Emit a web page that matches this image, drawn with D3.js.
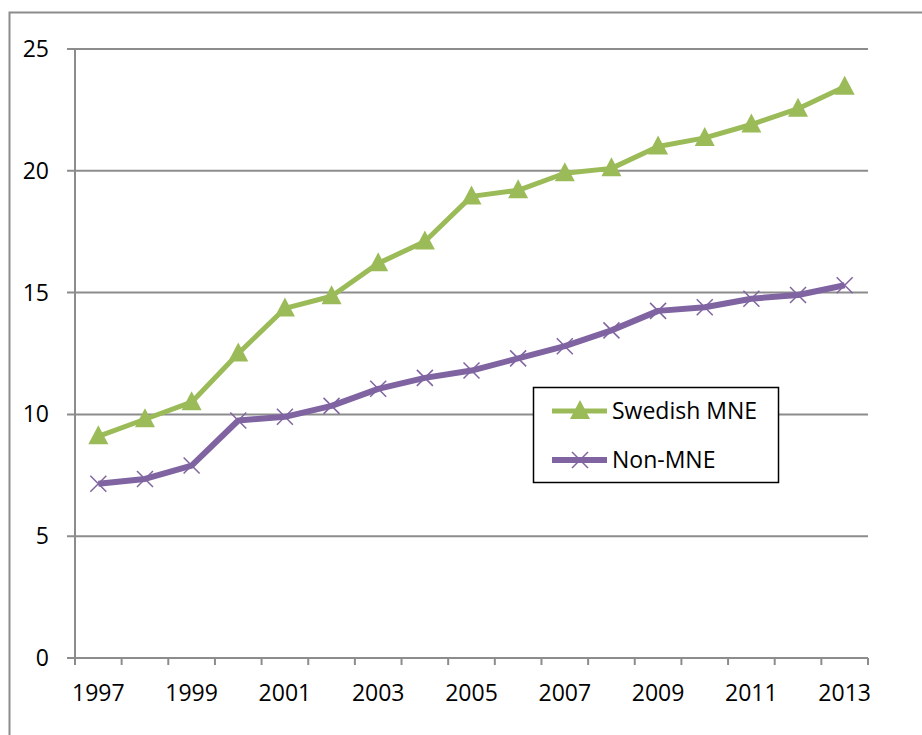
<!DOCTYPE html>
<html>
<head>
<meta charset="utf-8">
<script src="https://cdn.jsdelivr.net/npm/d3@7"></script>
<style>
body { margin: 0; background: #fff; }
text { font-family: "Open Sans", "Liberation Sans", sans-serif; }
</style>
</head>
<body>
<svg id="chart" width="922" height="735"></svg>
<script>
var years = [1997, 1998, 1999, 2000, 2001, 2002, 2003, 2004, 2005, 2006, 2007, 2008, 2009, 2010, 2011, 2012, 2013];
var swedishMNE = [9.1, 9.8, 10.5, 12.5, 14.35, 14.85, 16.2, 17.1, 18.95, 19.2, 19.9, 20.1, 21.0, 21.35, 21.9, 22.55, 23.45];
var nonMNE = [7.15, 7.35, 7.9, 9.75, 9.9, 10.35, 11.05, 11.5, 11.8, 12.3, 12.8, 13.45, 14.25, 14.4, 14.75, 14.9, 15.3];
var yTicks = [0, 5, 10, 15, 20, 25];
var seriesNames = ["Swedish MNE", "Non-MNE"];

var svg = d3.select("#chart");
var plotLeft = 75, plotRight = 868, plotTop = 49, plotBottom = 658;
var fontSize = 23;

// outer frame
svg.append("path")
	.attr("d", "M9.5,735 V12.5 H922")
	.attr("fill", "none")
	.attr("stroke", "#8c8c8c")
	.attr("stroke-width", 2);

var x = d3.scaleBand().domain(years).range([plotLeft, plotRight]);
var y = d3.scaleLinear().domain([0, 25]).range([plotBottom, plotTop]);

// gridlines
svg.selectAll(".grid")
	.data(yTicks)
	.enter()
	.append("line")
	.attr("x1", plotLeft - 8)
	.attr("x2", plotRight)
	.attr("y1", function(d) { return y(d); })
	.attr("y2", function(d) { return y(d); })
	.attr("stroke", "#8c8c8c")
	.attr("stroke-width", 2);

// y axis line
svg.append("line")
	.attr("x1", plotLeft).attr("x2", plotLeft)
	.attr("y1", plotTop).attr("y2", plotBottom)
	.attr("stroke", "#8c8c8c")
	.attr("stroke-width", 2);

// y labels
svg.selectAll(".ylab")
	.data(yTicks)
	.enter()
	.append("text")
	.attr("x", 49)
	.attr("y", function(d) { return y(d); })
	.attr("dy", "0.35em")
	.attr("text-anchor", "end")
	.attr("font-size", fontSize)
	.text(function(d) { return d; });

// x ticks between categories
var tickPos = years.map(function(d) { return x(d); }).concat([plotRight]);
svg.selectAll(".xtick")
	.data(tickPos)
	.enter()
	.append("line")
	.attr("x1", function(d) { return d; })
	.attr("x2", function(d) { return d; })
	.attr("y1", plotBottom)
	.attr("y2", plotBottom + 7)
	.attr("stroke", "#8c8c8c")
	.attr("stroke-width", 2);

svg.selectAll(".xlab")
	.data(years.filter(function(d, i) { return i % 2 === 0; }))
	.enter()
	.append("text")
	.attr("x", function(d) { return x(d) + x.bandwidth() / 2; })
	.attr("y", 701)
	.attr("text-anchor", "middle")
	.attr("font-size", fontSize)
	.text(function(d) { return d; });

var line = d3.line()
	.x(function(d, i) { return x(years[i]) + x.bandwidth() / 2; })
	.y(function(d) { return y(d); });

// non-MNE line
svg.append("path")
	.datum(nonMNE)
	.attr("d", line)
	.attr("fill", "none")
	.attr("stroke", "#8064A2")
	.attr("stroke-width", 6)
	.attr("stroke-linejoin", "round");

svg.selectAll(".xmark")
	.data(nonMNE)
	.enter()
	.append("path")
	.attr("transform", function(d, i) { return "translate(" + (x(years[i]) + x.bandwidth() / 2) + "," + y(d) + ")"; })
	.attr("d", "M-8,-8L8,8M-8,8L8,-8")
	.attr("stroke", "#8064A2")
	.attr("stroke-width", 1.5);

// swedish MNE line
svg.append("path")
	.datum(swedishMNE)
	.attr("d", line)
	.attr("fill", "none")
	.attr("stroke", "#9BBB59")
	.attr("stroke-width", 5)
	.attr("stroke-linejoin", "round");

svg.selectAll(".tri")
	.data(swedishMNE)
	.enter()
	.append("path")
	.attr("transform", function(d, i) { return "translate(" + (x(years[i]) + x.bandwidth() / 2) + "," + y(d) + ")"; })
	.attr("d", "M0,-11L10,8L-10,8Z")
	.attr("fill", "#9BBB59");

// legend
var lg = svg.append("g");
lg.append("rect")
	.attr("x", 533.5).attr("y", 387.5)
	.attr("width", 245).attr("height", 95)
	.attr("fill", "#fff")
	.attr("stroke", "#000")
	.attr("stroke-width", 1.5);

var legendRows = [
	{ name: seriesNames[0], color: "#9BBB59", w: 5, y: 411 },
	{ name: seriesNames[1], color: "#8064A2", w: 6, y: 460 }
];
legendRows.forEach(function(r, i) {
	lg.append("line")
		.attr("x1", 552).attr("x2", 607)
		.attr("y1", r.y).attr("y2", r.y)
		.attr("stroke", r.color)
		.attr("stroke-width", r.w);
	if (i === 0) {
		lg.append("path")
			.attr("transform", "translate(580," + r.y + ")")
			.attr("d", "M0,-11L10,8L-10,8Z")
			.attr("fill", r.color);
	} else {
		lg.append("path")
			.attr("transform", "translate(580," + r.y + ")")
			.attr("d", "M-8,-8L8,8M-8,8L8,-8")
			.attr("stroke", r.color)
			.attr("stroke-width", 1.5);
	}
	lg.append("text")
		.attr("x", 612).attr("y", r.y)
		.attr("dy", "0.33em")
		.attr("font-size", fontSize)
		.text(r.name);
});
</script>
</body>
</html>
